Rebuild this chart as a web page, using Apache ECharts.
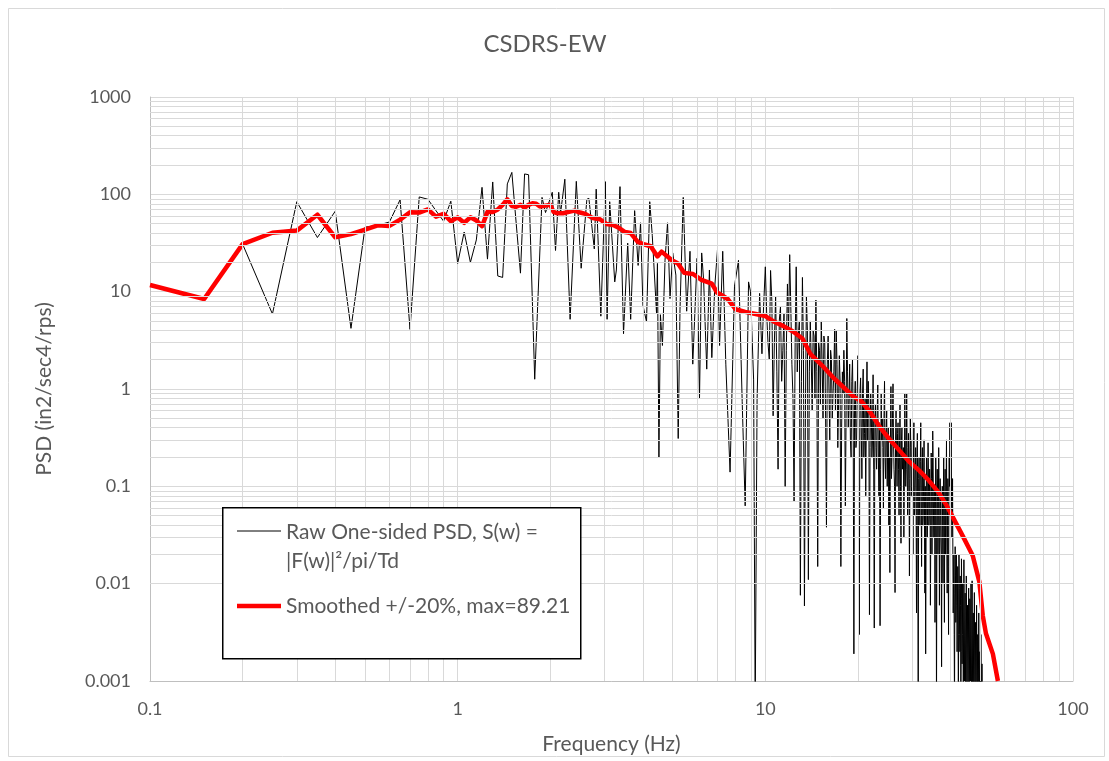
<!DOCTYPE html>
<html>
<head>
<meta charset="utf-8">
<script src="https://cdn.jsdelivr.net/npm/echarts@6/dist/echarts.min.js"></script>
<style>
html,body{margin:0;padding:0;background:#fff;}
#chart{width:1109px;height:761px;}
</style>
</head>
<body>
<div id="chart"></div>
<script>
// ---------------- DATA ----------------
const chartTitle = 'CSDRS-EW';
const xAxisTitle = 'Frequency (Hz)';
const yAxisTitle = 'PSD (in2/sec4/rps)';
const rawName = 'Raw One-sided PSD, S(w) =\n|F(w)|²/pi/Td';
const smoothName = 'Smoothed +/-20%, max=89.21';
const xTickLabels = ['0.1', '1', '10', '100'];
const yTickLabels = ['0.001', '0.01', '0.1', '1', '10', '100', '1000'];
const xMinorGrid = [0.2,0.3,0.4,0.5,0.6,0.7,0.8,0.9,2,3,4,5,6,7,8,9,20,30,40,50,60,70,80,90];
const yMinorGrid = [0.002,0.003,0.004,0.005,0.006,0.007,0.008,0.009,
  0.02,0.03,0.04,0.05,0.06,0.07,0.08,0.09,
  0.2,0.3,0.4,0.5,0.6,0.7,0.8,0.9,
  2,3,4,5,6,7,8,9,20,30,40,50,60,70,80,90,200,300,400,500,600,700,800,900];

// Raw PSD, low-frequency part (read vertices)
const rawLowFreq = [0.2,0.25,0.3,0.35,0.4,0.45,0.5,0.55,0.6,0.65,0.7,0.75,0.8,0.85,0.9,0.95,1.0,1.05,1.1,1.15,
  1.2,1.25,1.3,1.35,1.4,1.45,1.5,1.55,1.6,1.65,1.7,1.78,1.88,1.93,2.03,2.08,2.13,2.16,2.23,2.32,
  2.43,2.52,2.63,2.67,2.78,2.82,2.92,3.02,3.06,3.12,3.24,3.28,3.37,3.46,3.57,3.65,3.76,3.8,3.86,3.93,
  4.0,4.11,4.21,4.29,4.43,4.46,4.51,4.56,4.63,4.72,4.81,4.9,5.0,5.12,5.21,5.28,5.41,5.55,5.69,5.81,
  6.0,6.11,6.21,6.3,6.45,6.58,6.7,6.85,6.99,7.1,7.27,7.44,7.68,7.94,8.18,8.41,8.6,8.82,8.95,9.16,
  9.27,9.4,9.58,9.75,9.85];
const rawLowPsd = [30.8,5.9,84,36,67,4.2,46,48,52,88,4.1,94,89,68,53,85,19.5,41,20,34,
  118,21.6,134,14.5,14,128,168,50,15.5,162,159,1.26,93,65,105,26.5,105,64,143,5.2,
  136,17.4,89,91,27.5,113,5.6,135,5.2,84,12.6,16.7,120,3.7,31.5,5.2,68,66,18.6,51,
  7.3,4.9,84,38,6.0,19.5,0.2,5.8,2.8,21,51,8.5,25,14.8,0.31,6.5,93,6.3,26,1.8,
  22,0.8,25,13.2,1.6,16.7,2.1,11.3,26.8,2.8,26,1.8,0.14,11.4,21,0.74,0.063,12.6,10,1.24,
  0.0005,0.77,9.6,2.3,6];

// Raw PSD, dense high-frequency part: peaks/troughs from 10.0 Hz every 0.2 Hz
const rawHighStart = 10.0;
const rawHighStep = 0.2;
const rawHighPsd = [
  18,3,16.5,0.53,9,0.15,7,2.5,0.1,12,
  24,1.8,0.07,18,3.5,0.0076,14,0.0059,9,0.011,
  5,0.6,3.5,8.2,0.015,2.5,5,0.5,3,0.038,
  3.5,0.3,2,0.9,4.1,4,0.25,2.2,0.015,1.5,
  2.5,0.063,5.3,0.4,1.8,0.2,2,0.0019,1.2,0.3,
  2.2,0.003,1.3,0.12,1.6,0.35,0.08,1.9,1.2,0.0048,
  0.9,0.2,1.4,0.0035,0.7,0.15,1.1,0.08,0.0037,0.9,
  0.5,0.06,1.2,0.12,0.6,0.3,0.04,0.013,1.06,0.2,
  1.13,0.15,0.0081,0.6,0.1,0.45,0.05,0.7,0.026,0.4,
  0.2,0.03,0.9,0.1,0.9,0.05,0.35,0.012,0.5,0.08,
  0.3,0.02,0.45,0.06,0.25,0.005,0.35,0.0005,0.2,0.04,
  0.45,0.015,0.25,0.05,0.3,0.008,0.0019,0.2,0.03,0.28,
  0.04,0.15,0.006,0.22,0.02,0.37,0.05,0.1,0.004,0.2,
  0.0005,0.15,0.02,0.25,0.006,0.12,0.03,0.0014,0.1,0.01,
  0.2,0.004,0.15,0.02,0.3,0.008,0.12,0.003,0.2,0.45,
  0.05,0.45,0.03,0.12,0.005,0.02,0.0005,0.024,0.004,0.02,
  0.002,0.015,0.0005,0.02,0.003,0.012,0.0008,0.018,0.0015,0.01,
  0.0005,0.0176,0.001,0.008,0.0005,0.012,0.0008,0.006,0.0005,0.009,
  0.0005,0.007,0.001,0.01,0.0005,0.0107,0.0005,0.005,0.0005,0.0081,
  0.0005,0.004,0.0005,0.006,0.0005,0.003,0.0005,0.005,0.0005,0.002,
  0.0005,0.003,0.0005,0.0015,0.0005,0.0005];

// Raw PSD, in-between body values from 10.1 Hz every 0.2 Hz (10.1 ... 43.9)
const rawMidStart = 10.1;
const rawMidStep = 0.2;
const rawMidPsd = [
  6,2,8,3,1.5,5,1.2,6,2.5,4,
  7,0.8,3,1.5,5,1.2,2.5,0.6,4,1.5,
  2,4,0.8,1.5,3,0.7,1.8,3.5,0.5,1.8,
  1,2.5,0.5,1.5,0.6,1.8,0.7,1.2,0.4,0.9,
  1.2,0.5,1.5,0.8,0.3,1.2,0.5,0.7,0.25,1,
  0.5,0.9,0.4,0.9,0.2,0.8,0.5,0.3,0.7,0.25,
  0.6,0.3,0.15,0.5,0.25,0.6,0.2,0.45,0.15,0.3,
  0.25,0.5,0.2,0.35,0.1,0.4,0.2,0.3,0.12,0.5,
  0.3,0.1,0.3,0.2,0.35,0.15,0.25,0.1,0.3,0.15,
  0.25,0.1,0.3,0.15,0.25,0.08,0.2,0.12,0.25,0.1,
  0.1,0.2,0.05,0.15,0.08,0.2,0.03,0.12,0.06,0.18,
  0.08,0.15,0.04,0.12,0.06,0.1,0.03,0.15,0.07,0.12,
  0.05,0.1,0.04,0.12,0.06,0.2,0.03,0.09,0.05,0.1,
  0.03,0.08,0.05,0.1,0.03,0.07,0.02,0.06,0.04,0.08,
  0.03,0.07,0.02,0.1,0.03,0.06,0.015,0.08,0.1,0.2,
  0.3,0.06,0.04,0.02,0.01,0.003,0.008,0.012,0.006,0.01,
  0.005,0.008,0.003,0.009,0.002,0.006,0.002,0.007,0.003,0.005];

// Smoothed PSD (+/-20%)
const smoothFreq = [0.1,0.15,0.2,0.25,0.3,0.35,0.4,0.45,0.5,0.55,0.6,0.65,0.7,0.75,0.8,0.85,0.9,0.95,1.0,1.05,
  1.1,1.15,1.2,1.25,1.3,1.35,1.4,1.45,1.5,1.55,1.6,1.65,1.7,1.75,1.8,1.85,1.9,1.95,2.0,2.05,
  2.1,2.2,2.3,2.4,2.5,2.6,2.75,2.9,3.05,3.2,3.35,3.5,3.65,3.85,4.05,4.24,4.46,4.6,4.97,5.2,
  5.45,5.82,6.2,6.7,6.97,7.55,8.0,8.6,9.3,10.0,10.7,11.5,12.3,13.2,14.0,15.3,16.7,18.2,19.4,20.5,
  21.9,23.5,25.2,27.4,29.3,31.6,33.9,36.6,38.9,41.0,43.8,47.2,49.6,50.9,52.1,54.9,57.0];
const smoothPsd = [11.7,8.4,30.8,40.3,42.4,61.7,36.2,39,43.5,48,47.4,55,65.4,65,70,59,63,53,58,51,
  58,54,47,66,66,70,78,89,76,74.5,78,73,78,81,80,75,76,77,78,66,
  64,64,66,68,65,63,57,55.5,49.5,48.5,45,41,40,32.5,30.5,29.3,23,25.8,21,19.5,
  15.6,15.2,13.2,12.1,9.8,8.4,6.6,6.2,5.9,5.6,4.9,4.4,3.9,3.3,2.3,1.74,1.29,1.0,0.83,0.75,
  0.58,0.41,0.31,0.23,0.18,0.146,0.116,0.086,0.063,0.046,0.031,0.0195,0.0105,0.0047,0.0031,0.0019,0.001];

// ---------------- BUILD ----------------
const rawData = rawLowFreq.map((f, i) => [f, rawLowPsd[i]]);
const highPts = [];
rawHighPsd.forEach((v, i) => highPts.push([+(rawHighStart + i * rawHighStep).toFixed(2), v]));
rawMidPsd.forEach((v, i) => highPts.push([+(rawMidStart + i * rawMidStep).toFixed(2), v]));
highPts.sort((a, b) => a[0] - b[0]);
highPts.forEach(p => rawData.push(p));
const smoothData = smoothFreq.map((f, i) => [f, smoothPsd[i]]);

const txt = '#595959';
const gridCol = '#d9d9d9';
const fontFam = 'Lato, "Open Sans", sans-serif';

function lab(arr, minExp) {
  return v => { const k = Math.round(Math.log10(v)) - minExp; return arr[k] !== undefined ? arr[k] : ''; };
}

const chart = echarts.init(document.getElementById('chart'), null, {renderer: 'canvas'});
chart.setOption({
  backgroundColor: '#fff',
  animation: false,
  textStyle: {fontFamily: fontFam},
  title: {
    text: chartTitle, left: 540, top: 27, textAlign: 'center',
    textStyle: {color: txt, fontSize: 24, fontWeight: 'normal', fontFamily: fontFam}
  },
  grid: {left: 150, right: 36, top: 97, bottom: 80, containLabel: false},
  xAxis: {
    type: 'log', logBase: 10, min: 0.1, max: 100,
    name: xAxisTitle, nameLocation: 'middle', nameGap: 53,
    nameTextStyle: {color: txt, fontSize: 21, fontFamily: fontFam},
    axisLine: {show: true, lineStyle: {color: '#bfbfbf', width: 1}},
    axisTick: {show: false},
    axisLabel: {color: txt, fontSize: 18, margin: 19, fontFamily: fontFam, formatter: lab(xTickLabels, -1)},
    splitLine: {show: true, lineStyle: {color: gridCol, width: 1}},
    minorTick: {show: false}, minorSplitLine: {show: false}
  },
  yAxis: {
    type: 'log', logBase: 10, min: 0.001, max: 1000,
    name: yAxisTitle, nameLocation: 'middle', nameGap: 95, nameRotate: 90,
    nameTextStyle: {color: txt, fontSize: 21, fontFamily: fontFam},
    axisLine: {show: true, lineStyle: {color: '#bfbfbf', width: 1}},
    axisTick: {show: false},
    axisLabel: {color: txt, fontSize: 18, margin: 19, fontFamily: fontFam, formatter: lab(yTickLabels, -3)},
    splitLine: {show: true, lineStyle: {color: gridCol, width: 1}},
    minorTick: {show: false}, minorSplitLine: {show: false}
  },
  series: [
    {
      name: 'grid', type: 'line', data: [[1, 1]], symbol: 'none', lineStyle: {opacity: 0}, silent: true, z: 1,
      markLine: {
        silent: true, symbol: ['none', 'none'], animation: false,
        label: {show: false},
        lineStyle: {color: gridCol, width: 1, type: 'solid'},
        data: xMinorGrid.map(v => ({xAxis: v})).concat(yMinorGrid.map(v => ({yAxis: v})))
      }
    },
    {
      name: rawName, type: 'line', data: rawData, symbol: 'none', showSymbol: false,
      lineStyle: {color: '#000', width: 1}, itemStyle: {color: '#000'}, z: 3, clip: true, silent: true
    },
    {
      name: smoothName, type: 'line', data: smoothData, symbol: 'none', showSymbol: false,
      lineStyle: {color: '#ff0000', width: 4.5, join: 'round'}, itemStyle: {color: '#ff0000'}, z: 4, clip: true, silent: true
    }
  ],
  graphic: [
    {type: 'rect', left: 6, top: 6, silent: true, z: 0,
      shape: {width: 1096, height: 748}, style: {fill: 'none', stroke: '#d9d9d9', lineWidth: 1}},
    {type: 'rect', left: 222, top: 507, z: 100, silent: true,
      shape: {width: 358, height: 151}, style: {fill: '#fff', stroke: '#000', lineWidth: 1.5}},
    {type: 'line', z: 101, silent: true, shape: {x1: 237, y1: 531, x2: 281, y2: 531}, style: {stroke: '#000', lineWidth: 1}},
    {type: 'text', z: 101, silent: true, left: 286, top: 518,
      style: {text: rawName, fill: txt, fontSize: 21, fontFamily: fontFam, lineHeight: 29}},
    {type: 'line', z: 101, silent: true, shape: {x1: 237, y1: 606, x2: 281, y2: 606}, style: {stroke: '#ff0000', lineWidth: 4.5}},
    {type: 'text', z: 101, silent: true, left: 286, top: 593,
      style: {text: smoothName, fill: txt, fontSize: 21, fontFamily: fontFam, lineHeight: 26}}
  ]
});
</script>
</body>
</html>
